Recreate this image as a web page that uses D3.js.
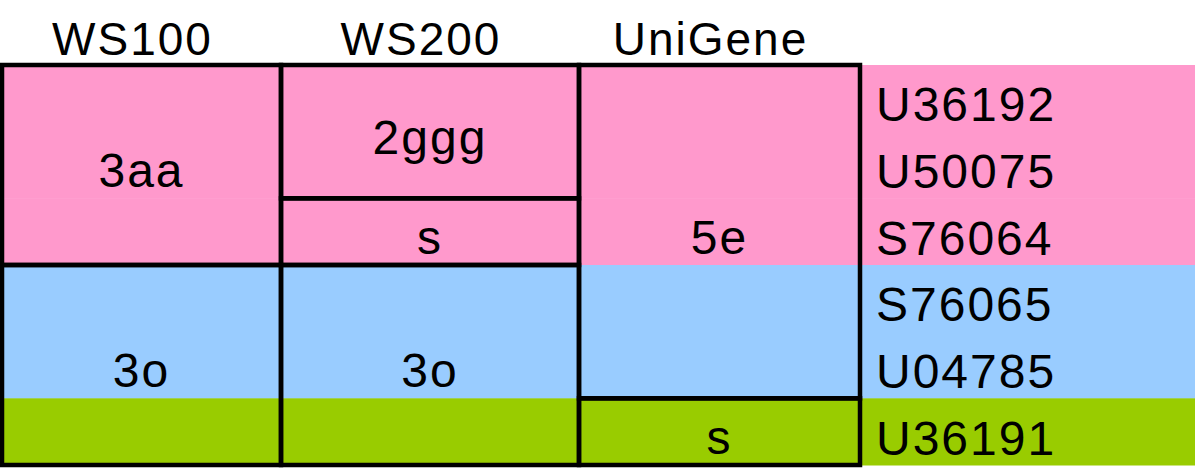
<!DOCTYPE html>
<html>
<head>
<meta charset="utf-8">
<script src="https://cdn.jsdelivr.net/npm/d3@7"></script>
<style>
    html, body { margin: 0; padding: 0; background: #fff; }
    svg text { font-family: "Liberation Sans", Arial, sans-serif; fill: #000; }
</style>
</head>
<body>
<svg id="mapping"></svg>
<script>
'use strict';

const WIDTH = 1200;
const HEIGHT = 472;
const TOP = 65;
const BOTTOM = 465;
const COL_EDGES = [2, 281, 579, 860];
const RIGHT_EDGE = 1195;
const LINE = 4.5;

// data
const columns = ["WS100", "WS200", "UniGene"];
const accessions = ["U36192", "U50075", "S76064", "S76065", "U04785", "U36191"];
const accessionGroups = ["a", "a", "a", "b", "b", "c"];
const groupColors = ["#ff99cc", "#99ccff", "#99cc00"];

// each cell: [label, first accession, last accession]
const ws100Cells = [["3aa", "U36192", "S76064"], ["3o", "S76065", "U36191"]];
const ws200Cells = [["2ggg", "U36192", "U50075"], ["s", "S76064", "S76064"], ["3o", "S76065", "U36191"]];
const unigeneCells = [["5e", "U36192", "U04785"], ["s", "U36191", "U36191"]];

class MappingTable {
    constructor() {
        this.svg = d3.select("svg#mapping")
                     .attr("width", WIDTH)
                     .attr("height", HEIGHT);
        this.setScales();
    }

    setScales() {
        this.yScale = d3.scaleBand()
                        .domain(accessions)
                        .range([TOP, BOTTOM]);
        this.xScale = d3.scaleLinear()
                        .domain(d3.range(COL_EDGES.length))
                        .range(COL_EDGES);
        this.color = d3.scaleOrdinal()
                       .domain(["a", "b", "c"])
                       .range(groupColors);
    }

    drawBands() {
        this.svg.append("g")
                .attr("data-type", "bands")
                .selectAll("rect")
                .data(accessions)
                .enter()
                .append("rect")
                .attr("x", COL_EDGES[0])
                .attr("y", d => this.yScale(d))
                .attr("width", RIGHT_EDGE - COL_EDGES[0])
                .attr("height", this.yScale.bandwidth() + 0.5)
                .attr("fill", (d, i) => this.color(accessionGroups[i]));
    }

    drawCells() {
        const cells = [];
        [ws100Cells, ws200Cells, unigeneCells].forEach((list, c) => {
            list.forEach(d => cells.push({col: c, label: d[0], from: d[1], to: d[2]}));
        });

        const g = this.svg.append("g").attr("data-type", "cells");
        const y0 = d => this.yScale(d.from);
        const y1 = d => this.yScale(d.to) + this.yScale.bandwidth();

        g.selectAll("rect")
         .data(cells)
         .enter()
         .append("rect")
         .attr("x", d => this.xScale(d.col))
         .attr("y", y0)
         .attr("width", d => this.xScale(d.col + 1) - this.xScale(d.col))
         .attr("height", d => y1(d) - y0(d))
         .attr("fill", "none")
         .attr("stroke", "#000")
         .attr("stroke-width", LINE);

        g.selectAll("text")
         .data(cells)
         .enter()
         .append("text")
         .attr("x", d => (this.xScale(d.col) + this.xScale(d.col + 1)) / 2)
         .attr("y", d => (y0(d) + y1(d)) / 2 + 22)
         .attr("text-anchor", "middle")
         .attr("font-size", 48)
         .attr("letter-spacing", 2)
         .text(d => d.label);
    }

    drawHeaders() {
        this.svg.append("g")
                .attr("data-type", "headers")
                .selectAll("text")
                .data(columns)
                .enter()
                .append("text")
                .attr("x", (d, i) => (this.xScale(i) + this.xScale(i + 1)) / 2 - 9)
                .attr("y", 55)
                .attr("text-anchor", "middle")
                .attr("font-size", 46)
                .attr("letter-spacing", 2)
                .text(d => d);
    }

    drawAccessions() {
        this.svg.append("g")
                .attr("data-type", "accessions")
                .selectAll("text")
                .data(accessions)
                .enter()
                .append("text")
                .attr("x", COL_EDGES[COL_EDGES.length - 1] + 16)
                .attr("y", d => this.yScale(d) + this.yScale.bandwidth() / 2 + 23)
                .attr("font-size", 48)
                .attr("letter-spacing", 2)
                .text(d => d);
    }

    draw() {
        this.drawBands();
        this.drawCells();
        this.drawHeaders();
        this.drawAccessions();
    }
}

const table = new MappingTable();
table.draw();
</script>
</body>
</html>
